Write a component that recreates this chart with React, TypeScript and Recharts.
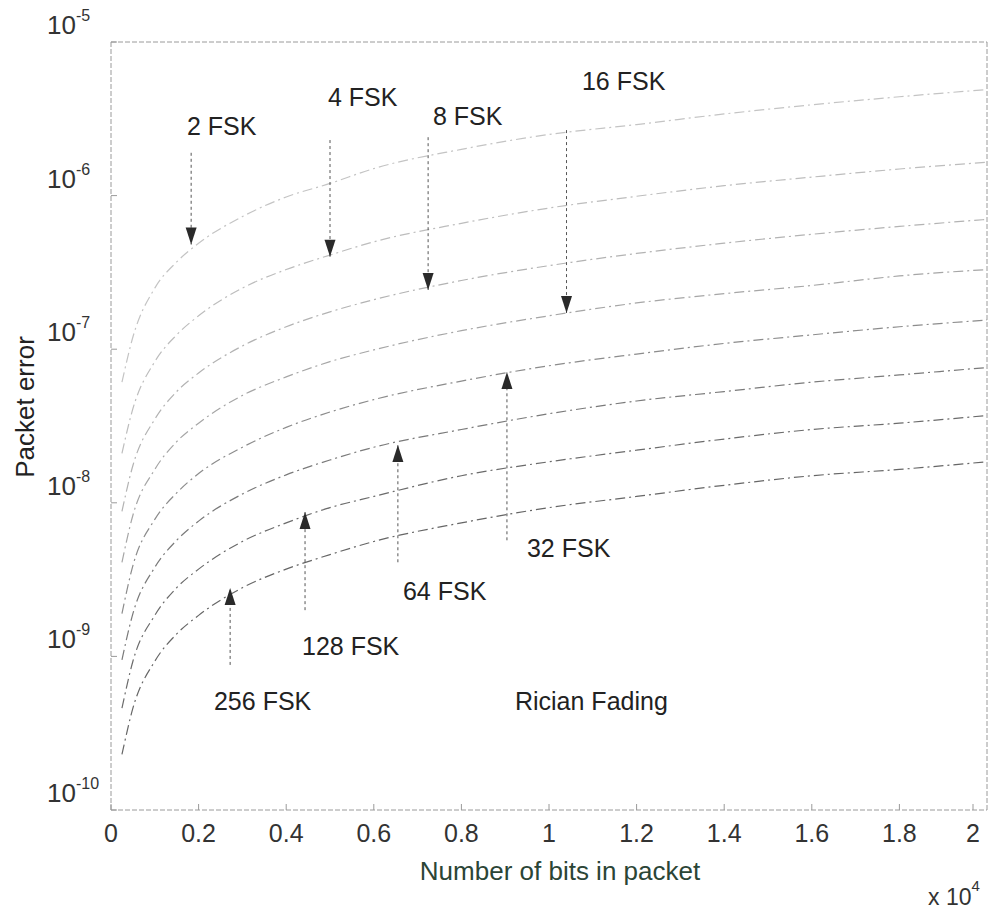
import React from "react";
import {
  LineChart,
  Line,
  XAxis,
  YAxis,
  ReferenceLine,
  ReferenceDot,
} from "recharts";

// packet length in bits (x axis, shown in units of 10^4)
const bits = [250, 500, 1000, 1500, 2000, 3000, 4000, 5000, 6000, 8000, 10000, 12000, 14000, 16000, 18000, 20000];

// packet error, one list per modulation
const fsk2 = [6.1e-8, 1.2e-7, 2.5e-7, 3.7e-7, 4.9e-7, 7.3e-7, 9.8e-7, 1.2e-6, 1.5e-6, 2.0e-6, 2.5e-6, 2.9e-6, 3.4e-6, 3.9e-6, 4.4e-6, 4.9e-6];
const fsk4 = [2.1e-8, 4.1e-8, 8.3e-8, 1.24e-7, 1.65e-7, 2.5e-7, 3.3e-7, 4.1e-7, 5.0e-7, 6.6e-7, 8.3e-7, 9.9e-7, 1.16e-6, 1.32e-6, 1.49e-6, 1.65e-6];
const fsk8 = [8.8e-9, 1.75e-8, 3.5e-8, 5.3e-8, 7.0e-8, 1.05e-7, 1.4e-7, 1.75e-7, 2.1e-7, 2.8e-7, 3.5e-7, 4.2e-7, 4.9e-7, 5.6e-7, 6.3e-7, 7.0e-7];
const fsk16 = [4.1e-9, 8.3e-9, 1.65e-8, 2.5e-8, 3.3e-8, 5.0e-8, 6.6e-8, 8.3e-8, 9.9e-8, 1.32e-7, 1.65e-7, 2.0e-7, 2.3e-7, 2.6e-7, 3.0e-7, 3.3e-7];
const fsk32 = [1.9e-9, 3.9e-9, 7.8e-9, 1.16e-8, 1.55e-8, 2.3e-8, 3.1e-8, 3.9e-8, 4.7e-8, 6.2e-8, 7.8e-8, 9.3e-8, 1.09e-7, 1.24e-7, 1.4e-7, 1.55e-7];
const fsk64 = [9.5e-10, 1.9e-9, 3.8e-9, 5.7e-9, 7.6e-9, 1.14e-8, 1.52e-8, 1.9e-8, 2.3e-8, 3.0e-8, 3.8e-8, 4.6e-8, 5.3e-8, 6.1e-8, 6.8e-8, 7.6e-8];
const fsk128 = [4.6e-10, 9.3e-10, 1.85e-9, 2.8e-9, 3.7e-9, 5.6e-9, 7.4e-9, 9.3e-9, 1.1e-8, 1.5e-8, 1.85e-8, 2.2e-8, 2.6e-8, 3.0e-8, 3.3e-8, 3.7e-8];
const fsk256 = [2.3e-10, 4.6e-10, 9.3e-10, 1.4e-9, 1.85e-9, 2.8e-9, 3.7e-9, 4.6e-9, 5.6e-9, 7.4e-9, 9.3e-9, 1.1e-8, 1.3e-8, 1.5e-8, 1.65e-8, 1.85e-8];

const seriesKeys = ["fsk2", "fsk4", "fsk8", "fsk16", "fsk32", "fsk64", "fsk128", "fsk256"];
const seriesValues = [fsk2, fsk4, fsk8, fsk16, fsk32, fsk64, fsk128, fsk256];
const seriesColors = ["#c4c4c4", "#bdbdbd", "#b3b3b3", "#a6a6a6", "#8c8c8c", "#7a7a7a", "#6b6b6b", "#666666"];

const xTicks = [0, 2000, 4000, 6000, 8000, 10000, 12000, 14000, 16000, 18000, 20000];
const xTickLabels = ["0", "0.2", "0.4", "0.6", "0.8", "1", "1.2", "1.4", "1.6", "1.8", "2"];
const yTicks = [1e-10, 1e-9, 1e-8, 1e-7, 1e-6, 1e-5];
const yTickExponents = ["-10", "-9", "-8", "-7", "-6", "-5"];

// arrows: x position (bits), tail and tip (packet error)
const arrowNames = ["2 FSK", "4 FSK", "8 FSK", "16 FSK", "32 FSK", "64 FSK", "128 FSK", "256 FSK"];
const arrowBits = [1830, 5000, 7240, 10400, 9040, 6550, 4430, 2720];
const arrowTail = [1.9e-6, 2.3e-6, 2.4e-6, 2.67e-6, 5.7e-9, 4.1e-9, 2.0e-9, 8.8e-10];
const arrowTip = [4.8e-7, 4.0e-7, 2.43e-7, 1.72e-7, 7.1e-8, 2.38e-8, 8.7e-9, 2.79e-9];

// text annotations (left edge / baseline in data units)
const noteText = ["2 FSK", "4 FSK", "8 FSK", "16 FSK", "32 FSK", "64 FSK", "128 FSK", "256 FSK", "Rician Fading"];
const noteBits = [1735, 4954, 7351, 10753, 9497, 6666, 4361, 2351, 9223];
const noteErr = [2.48e-6, 3.83e-6, 2.88e-6, 4.87e-6, 4.44e-9, 2.33e-9, 1.02e-9, 4.48e-10, 4.48e-10];

const FONT = "'Liberation Sans', Arial, sans-serif";
const FRAME = "#9a9a9a";

const data = bits.map((n, i) => {
  const row: Record<string, number> = { n };
  seriesKeys.forEach((k, j) => {
    row[k] = seriesValues[j][i];
  });
  return row;
});

function XTick(props: any) {
  const { x, y, payload } = props;
  const label = xTickLabels[xTicks.indexOf(payload.value)];
  return (
    <g>
      <line x1={x} x2={x} y1={y} y2={y - 6} stroke={FRAME} />
      <text x={x} y={y + 32} textAnchor="middle" fontSize={25} fill="#333" fontFamily={FONT}>
        {label}
      </text>
    </g>
  );
}

function YTick(props: any) {
  const { x, y, payload } = props;
  const exp = yTickExponents[yTicks.indexOf(payload.value)];
  return (
    <g>
      <line x1={x} x2={x + 6} y1={y} y2={y} stroke={FRAME} />
      <text x={x - 64} y={y - 8} fontSize={26} fill="#333" fontFamily={FONT}>
        10
        <tspan dy={-13} fontSize={16}>
          {exp}
        </tspan>
      </text>
    </g>
  );
}

function ArrowHead(props: any) {
  const { cx, cy, up } = props;
  const d = up ? 1 : -1;
  return (
    <polygon
      points={`${cx},${cy} ${cx - 5.5},${cy + d * 17} ${cx + 5.5},${cy + d * 17}`}
      fill="#2a2a2a"
    />
  );
}

function Note(props: any) {
  const { cx, cy, text } = props;
  return (
    <text x={cx} y={cy} fontSize={25} fill="#222" fontFamily={FONT}>
      {text}
    </text>
  );
}

export default function App() {
  return (
    <div style={{ position: "absolute", left: 0, top: 0, width: 993, height: 909, background: "#fff" }}>
      <LineChart width={993} height={909} data={data} margin={{ top: 42, right: 6, bottom: 0, left: 0 }}>
        <XAxis
          dataKey="n"
          type="number"
          domain={[0, 20000]}
          ticks={xTicks}
          tick={<XTick />}
          tickLine={false}
          tickSize={0}
          tickMargin={0}
          height={99}
          axisLine={{ stroke: FRAME, strokeDasharray: "5 2" }}
        />
        <YAxis
          scale="log"
          domain={[1e-10, 1e-5]}
          allowDataOverflow
          ticks={yTicks}
          tick={<YTick />}
          tickLine={false}
          tickSize={0}
          tickMargin={0}
          width={111}
          axisLine={{ stroke: FRAME, strokeDasharray: "5 2" }}
        />
        <ReferenceLine y={1e-5} stroke={FRAME} strokeDasharray="5 2" />
        <ReferenceLine x={20000} stroke={FRAME} strokeDasharray="5 2" />
        {seriesKeys.map((k, j) => (
          <Line
            key={k}
            dataKey={k}
            type="monotone"
            stroke={seriesColors[j]}
            strokeWidth={1.2}
            strokeDasharray="10 4 2 4"
            dot={false}
            isAnimationActive={false}
          />
        ))}
        {arrowNames.map((name, i) => (
          <ReferenceLine
            key={"shaft" + name}
            segment={[
              { x: arrowBits[i], y: arrowTail[i] },
              { x: arrowBits[i], y: arrowTip[i] },
            ]}
            stroke="#555"
            strokeDasharray="3 3"
          />
        ))}
        {arrowNames.map((name, i) => (
          <ReferenceDot
            key={"head" + name}
            x={arrowBits[i]}
            y={arrowTip[i]}
            r={1}
            shape={(p: any) => <ArrowHead {...p} up={arrowTip[i] > arrowTail[i]} />}
          />
        ))}
        {noteText.map((t, i) => (
          <ReferenceDot
            key={"note" + t}
            x={noteBits[i]}
            y={noteErr[i]}
            r={1}
            shape={(p: any) => <Note {...p} text={t} />}
          />
        ))}
      </LineChart>
      <svg
        width={993}
        height={909}
        style={{ position: "absolute", left: 0, top: 0, pointerEvents: "none" }}
      >
        <text
          x={0}
          y={0}
          transform="translate(34,407) rotate(-90)"
          textAnchor="middle"
          fontSize={26}
          fill="#222"
          fontFamily={FONT}
        >
          Packet error
        </text>
        <text x={560} y={880} textAnchor="middle" fontSize={26} fill="#2b4536" fontFamily={FONT}>
          Number of bits in packet
        </text>
        <text x={928} y={905} fontSize={23} fill="#333" fontFamily={FONT}>
          x 10
          <tspan dy={-14} fontSize={15}>
            4
          </tspan>
        </text>
      </svg>
    </div>
  );
}
